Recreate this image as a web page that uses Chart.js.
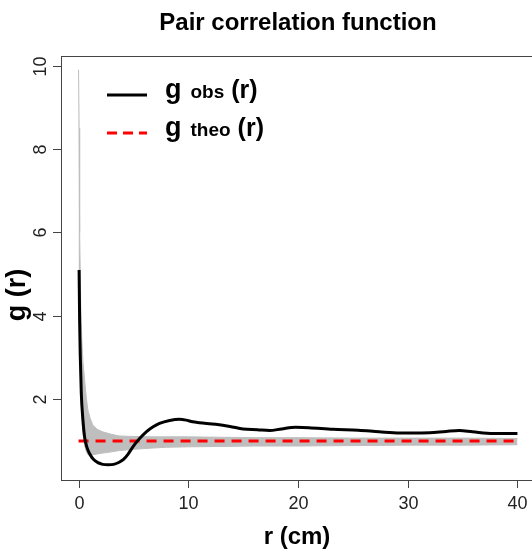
<!DOCTYPE html>
<html>
<head>
<meta charset="utf-8">
<script src="https://cdn.jsdelivr.net/npm/chart.js@4.4.1/dist/chart.umd.min.js"></script>
<style>
  html, body { margin: 0; padding: 0; background: #fff; overflow: hidden; }
  #wrap { position: relative; width: 545px; height: 551px; }
</style>
</head>
<body>
<div id="wrap"><canvas id="pcf"></canvas></div>
<script>
// observed g(r)
const obsR = [0.05, 0.1, 0.15, 0.25, 0.4, 0.55, 0.75, 1.0, 1.35, 1.76, 2.2, 2.7, 3.2, 3.7, 4.1, 4.5, 4.95, 5.5, 6.17, 6.8, 7.38, 8.3, 9.2, 9.8, 10.4, 11.0, 12.5, 13.8, 15.0, 16.3, 17.4, 18.5, 19.8, 21.0, 23.2, 25.5, 27.4, 29.3, 30.5, 32.0, 33.5, 34.7, 35.9, 37.8, 40.0];
const obsG = [5.1, 3.86, 3.1, 2.14, 1.5, 1.1, 0.86, 0.70, 0.56, 0.48, 0.44, 0.43, 0.44, 0.49, 0.56, 0.68, 0.86, 1.04, 1.22, 1.34, 1.42, 1.49, 1.52, 1.50, 1.46, 1.44, 1.40, 1.35, 1.29, 1.27, 1.25, 1.29, 1.33, 1.32, 1.28, 1.26, 1.22, 1.19, 1.19, 1.20, 1.23, 1.25, 1.22, 1.18, 1.18];

// simulation envelope
const envR  = [0, 0.05, 0.1, 0.2, 0.3, 0.4, 0.55, 0.7, 0.85, 1.05, 1.3, 1.7, 2.2, 3.0, 3.7, 5, 6.7, 8, 10, 13, 16, 20, 25, 30, 35, 40];
const envHi = [9.9, 8.5, 6.0, 4.2, 3.4, 2.9, 2.46, 2.05, 1.74, 1.55, 1.38, 1.28, 1.22, 1.16, 1.12, 1.11, 1.1, 1.1, 1.1, 1.09, 1.08, 1.08, 1.07, 1.07, 1.07, 1.06];
const envLo = [5.0, 4.6, 3.5, 2.2, 1.6, 1.2, 0.9, 0.75, 0.67, 0.65, 0.67, 0.69, 0.71, 0.74, 0.77, 0.8, 0.83, 0.85, 0.86, 0.87, 0.88, 0.88, 0.89, 0.9, 0.9, 0.91];

// theoretical g(r) = 1
const theoR = [0, 40];
const theoG = [1, 1];

const xTicks = [0, 10, 20, 30, 40];
const yTicks = [2, 4, 6, 8, 10];

const pts = (xs, ys) => xs.map((x, i) => ({ x: x, y: ys[i] }));

const FONT = '"Liberation Sans", Arial, sans-serif';

// axes, box, titles and legend drawn R style
const decorations = {
    id: 'decorations',
    afterDraw(chart) {
        const ctx = chart.ctx;
        const a = chart.chartArea;
        const xs = chart.scales.x, ys = chart.scales.y;
        ctx.save();

        // box
        ctx.strokeStyle = '#444';
        ctx.lineWidth = 1;
        ctx.strokeRect(a.left + 0.5, a.top + 0.5, a.right - a.left, a.bottom - a.top);

        // x ticks
        ctx.fillStyle = '#222';
        ctx.font = '18px ' + FONT;
        ctx.textAlign = 'center';
        ctx.textBaseline = 'middle';
        xTicks.forEach(v => {
            const px = Math.round(xs.getPixelForValue(v)) + 0.5;
            ctx.beginPath();
            ctx.moveTo(px, a.bottom);
            ctx.lineTo(px, a.bottom + 8);
            ctx.stroke();
            ctx.fillText(String(v), px, a.bottom + 24);
        });

        // y ticks (labels rotated)
        yTicks.forEach(v => {
            const py = Math.round(ys.getPixelForValue(v)) + 0.5;
            ctx.beginPath();
            ctx.moveTo(a.left, py);
            ctx.lineTo(a.left - 8, py);
            ctx.stroke();
            ctx.save();
            ctx.translate(a.left - 20, py);
            ctx.rotate(-Math.PI / 2);
            ctx.fillText(String(v), 0, 0);
            ctx.restore();
        });

        // titles
        ctx.fillStyle = '#000';
        ctx.font = 'bold 24px ' + FONT;
        ctx.fillText('Pair correlation function', 298, 23);
        ctx.fillText('r (cm)', 297, 537);
        ctx.save();
        ctx.translate(18, 295);
        ctx.rotate(-Math.PI / 2);
        ctx.font = 'bold 27px ' + FONT;
        ctx.fillText('g (r)', 0, 0);
        ctx.restore();

        // legend
        const rows = [
            { y: 95, sub: 'obs', color: '#000', dash: [] },
            { y: 133, sub: 'theo', color: '#ff0000', dash: [10, 6] }
        ];
        rows.forEach(r => {
            ctx.strokeStyle = r.color;
            ctx.lineWidth = 3;
            ctx.setLineDash(r.dash);
            ctx.beginPath();
            ctx.moveTo(107, r.y);
            ctx.lineTo(147, r.y);
            ctx.stroke();
            ctx.setLineDash([]);

            ctx.fillStyle = '#000';
            ctx.textAlign = 'left';
            ctx.textBaseline = 'alphabetic';
            let x = 165;
            const base = r.y + 3;
            ctx.font = 'bold 27px ' + FONT;
            ctx.fillText('g', x, base);
            x += ctx.measureText('g').width + 9;
            ctx.font = 'bold 19px ' + FONT;
            ctx.fillText(r.sub, x, base);
            x += ctx.measureText(r.sub).width + 7;
            ctx.font = 'bold 25px ' + FONT;
            ctx.fillText('(r)', x, base);
        });

        ctx.restore();
    }
};

new Chart(document.getElementById('pcf'), {
    type: 'line',
    data: {
        datasets: [
            {
                label: 'g obs (r)',
                data: pts(obsR, obsG),
                borderColor: '#000',
                borderWidth: 3,
                pointRadius: 0,
                cubicInterpolationMode: 'monotone',
                fill: false,
                order: 0
            },
            {
                label: 'g theo (r)',
                data: pts(theoR, theoG),
                borderColor: '#ff0000',
                borderWidth: 3,
                borderDash: [10, 7],
                pointRadius: 0,
                fill: false,
                order: 1
            },
            {
                label: 'hi',
                data: pts(envR, envHi),
                borderColor: '#bebebe',
                borderWidth: 1,
                backgroundColor: '#bebebe',
                pointRadius: 0,
                fill: '+1',
                order: 2
            },
            {
                label: 'lo',
                data: pts(envR, envLo),
                borderColor: '#bebebe',
                borderWidth: 1,
                pointRadius: 0,
                fill: false,
                order: 3
            }
        ]
    },
    options: {
        responsive: true,
        maintainAspectRatio: false,
        animation: false,
        layout: { padding: { left: 61, top: 56, right: 10, bottom: 71 } },
        plugins: {
            legend: { display: false },
            title: { display: false },
            tooltip: { enabled: false }
        },
        scales: {
            x: { type: 'linear', min: -1.6, max: 41.6, display: false },
            y: { type: 'linear', min: 0.065, max: 10.23, display: false }
        }
    },
    plugins: [decorations]
});
</script>
</body>
</html>
